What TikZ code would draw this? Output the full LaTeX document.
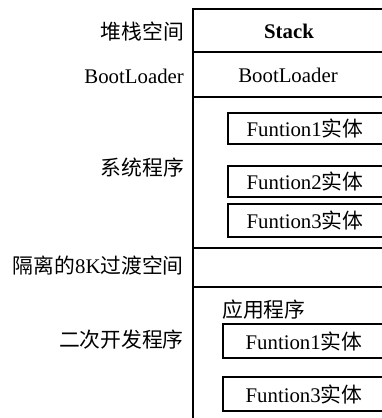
\documentclass[tikz,border=0pt]{standalone}
\usepackage{fontspec}
\setmainfont{Liberation Serif}
\newfontfamily\cjk{Noto Sans CJK SC}
\tikzset{
  lbl/.style={font=\fontsize{20.8}{24}\selectfont, inner sep=0pt, anchor=east},
  txt/.style={font=\fontsize{20.8}{24}\selectfont, inner sep=0pt},
  fbox/.style={draw, line width=1.2pt},
  col/.style={line width=1.5pt},
}
\begin{document}
\begin{tikzpicture}[x=1pt,y=-1pt]
\useasboundingbox (0,0) rectangle (382,418);
\clip (0,0) rectangle (382,418);
% column
\draw[col] (193,420) -- (193,9) -- (390,9);
\draw[col] (193,52) -- (390,52);
\draw[col] (193,97) -- (390,97);
\draw[col] (193,248) -- (390,248);
\draw[col] (193,287) -- (390,287);
% column texts
\node[txt] (stack) at (289,31) {\bfseries Stack};
\node[txt] (boot) at (288,75) {BootLoader};
% system function boxes
\draw[fbox] (228,113) rectangle (395,144);
\node[txt] (sf1) at (305,128.5) {Funtion1{\cjk 实体}};
\draw[fbox] (228,166) rectangle (395,197);
\node[txt] (sf2) at (305,181.5) {Funtion2{\cjk 实体}};
\draw[fbox] (228,204) rectangle (395,237);
\node[txt] (sf3) at (305,220.5) {Funtion3{\cjk 实体}};
% application
\node[txt, anchor=west] (app) at (222,310) {\cjk 应用程序};
\draw[fbox] (223,324) rectangle (395,358);
\node[txt] (af1) at (304,341) {Funtion1{\cjk 实体}};
\draw[fbox] (223,377) rectangle (395,411);
\node[txt] (af3) at (304,394) {Funtion3{\cjk 实体}};
% left labels
\node[lbl] (l1) at (184,32) {\cjk 堆栈空间};
\node[lbl] (l2) at (184,76) {BootLoader};
\node[lbl] (l3) at (184,168) {\cjk 系统程序};
\node[lbl] (l4) at (184,266) {{\cjk 隔离的}8K{\cjk 过渡空间}};
\node[lbl] (l5) at (184,340) {\cjk 二次开发程序};
\end{tikzpicture}
\end{document}
